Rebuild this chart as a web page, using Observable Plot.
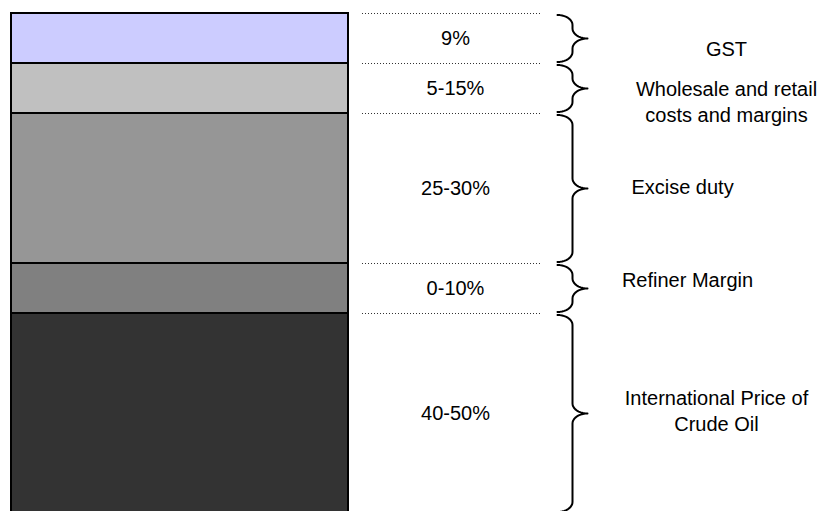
<!DOCTYPE html>
<html>
<head>
<meta charset="utf-8">
<script src="https://cdn.jsdelivr.net/npm/d3@7"></script>
<script src="https://cdn.jsdelivr.net/npm/@observablehq/plot@0.6"></script>
<style>
  html, body { margin: 0; padding: 0; background: #ffffff; }
  #chart svg { display: block; }
</style>
</head>
<body>
<div id="chart"></div>
<script>
// Build-up of the retail fuel price, listed top to bottom.
const components = [
  "GST",
  "Wholesale and retail\ncosts and margins",
  "Excise duty",
  "Refiner Margin",
  "International Price of\nCrude Oil"
];
const shares = ["9%", "5-15%", "25-30%", "0-10%", "40-50%"];
// Relative height of each band in the schematic column.
const bandSizes = [1, 1, 3, 1, 4];

// Styling
const fills = ["#ccccff", "#c0c0c0", "#969696", "#808080", "#333333"];
// Per-label nudges (px) for the right-hand captions.
const labelDx = [16, 16, -28, -23, 6];
const labelDy = [9, 12, -3, -10, -4];

// Column layout on the horizontal (pixel) axis.
const BAR = [11, 348];
const SHARE_X = 455;
const GUIDE = [362, 540];
const BRACE = {end: 557, stem: 572, tip: 587};
const LABEL_X = 710;
const FONT = 20;

// Stack the bands from the bottom up.
const rows = [];
let acc = 0;
for (let i = components.length - 1; i >= 0; --i) {
  rows.unshift({
    key: i,
    label: components[i],
    share: shares[i],
    fill: fills[i],
    y1: acc,
    y2: acc + bandSizes[i]
  });
  acc += bandSizes[i];
}
const total = acc;

// Curly brace outline next to each band.
const R = 0.2;        // vertical radius of the brace curls (in band units)
const INSET = 0.03;   // small gap between neighbouring braces
const steps = 10;
const bracePts = [];
for (const r of rows) {
  const T = r.y2 - INSET, B = r.y1 + INSET, M = (r.y1 + r.y2) / 2;
  const w1 = BRACE.stem - BRACE.end, w2 = BRACE.tip - BRACE.stem;
  const push = (x, y) => bracePts.push({key: r.key, x, y});
  for (let k = 0; k <= steps; ++k) {
    const a = (k / steps) * Math.PI / 2;
    push(BRACE.end + w1 * Math.sin(a), T - R + R * Math.cos(a));
  }
  for (let k = 0; k <= steps; ++k) {
    const a = (k / steps) * Math.PI / 2;
    push(BRACE.tip - w2 * Math.cos(a), M + R - R * Math.sin(a));
  }
  for (let k = 0; k <= steps; ++k) {
    const a = (k / steps) * Math.PI / 2;
    push(BRACE.tip - w2 * Math.sin(a), M - R + R * Math.cos(a));
  }
  for (let k = 0; k <= steps; ++k) {
    const a = (k / steps) * Math.PI / 2;
    push(BRACE.end + w1 * Math.cos(a), B + R - R * Math.sin(a));
  }
}

const labelMarks = rows.map((r, i) =>
  Plot.text([r], {
    x: () => LABEL_X,
    y: d => (d.y1 + d.y2) / 2,
    text: "label",
    fontSize: FONT,
    lineHeight: 1.3,
    fill: "#000",
    textAnchor: "middle",
    dx: labelDx[r.key],
    dy: labelDy[r.key]
  })
);

const chart = Plot.plot({
  width: 826,
  height: 511,
  margin: 0,
  style: {
    fontFamily: "'Liberation Sans', Arial, Helvetica, sans-serif",
    background: "#ffffff",
    overflow: "hidden"
  },
  x: {type: "linear", domain: [0, 826], range: [0, 826], axis: null},
  y: {type: "linear", domain: [0, total], range: [513, 13], axis: null},
  color: {type: "identity"},
  marks: [
    // stacked column
    Plot.rectY(rows, {
      x1: () => BAR[0],
      x2: () => BAR[1],
      y1: "y1",
      y2: "y2",
      fill: "fill",
      stroke: "#000",
      strokeWidth: 2
    }),
    // dotted guides at the band boundaries
    Plot.ruleY(rows, {
      y: "y2",
      x1: () => GUIDE[0],
      x2: () => GUIDE[1],
      stroke: "#333",
      strokeWidth: 1.2,
      strokeDasharray: "1,2"
    }),
    // share of each component
    Plot.text(rows, {
      x: () => SHARE_X,
      y: d => (d.y1 + d.y2) / 2,
      text: "share",
      fontSize: FONT,
      fill: "#000"
    }),
    // braces
    Plot.line(bracePts, {
      x: "x",
      y: "y",
      z: "key",
      curve: "linear",
      stroke: "#000",
      strokeWidth: 2
    }),
    ...labelMarks
  ]
});

document.getElementById("chart").appendChild(chart);
</script>
</body>
</html>
